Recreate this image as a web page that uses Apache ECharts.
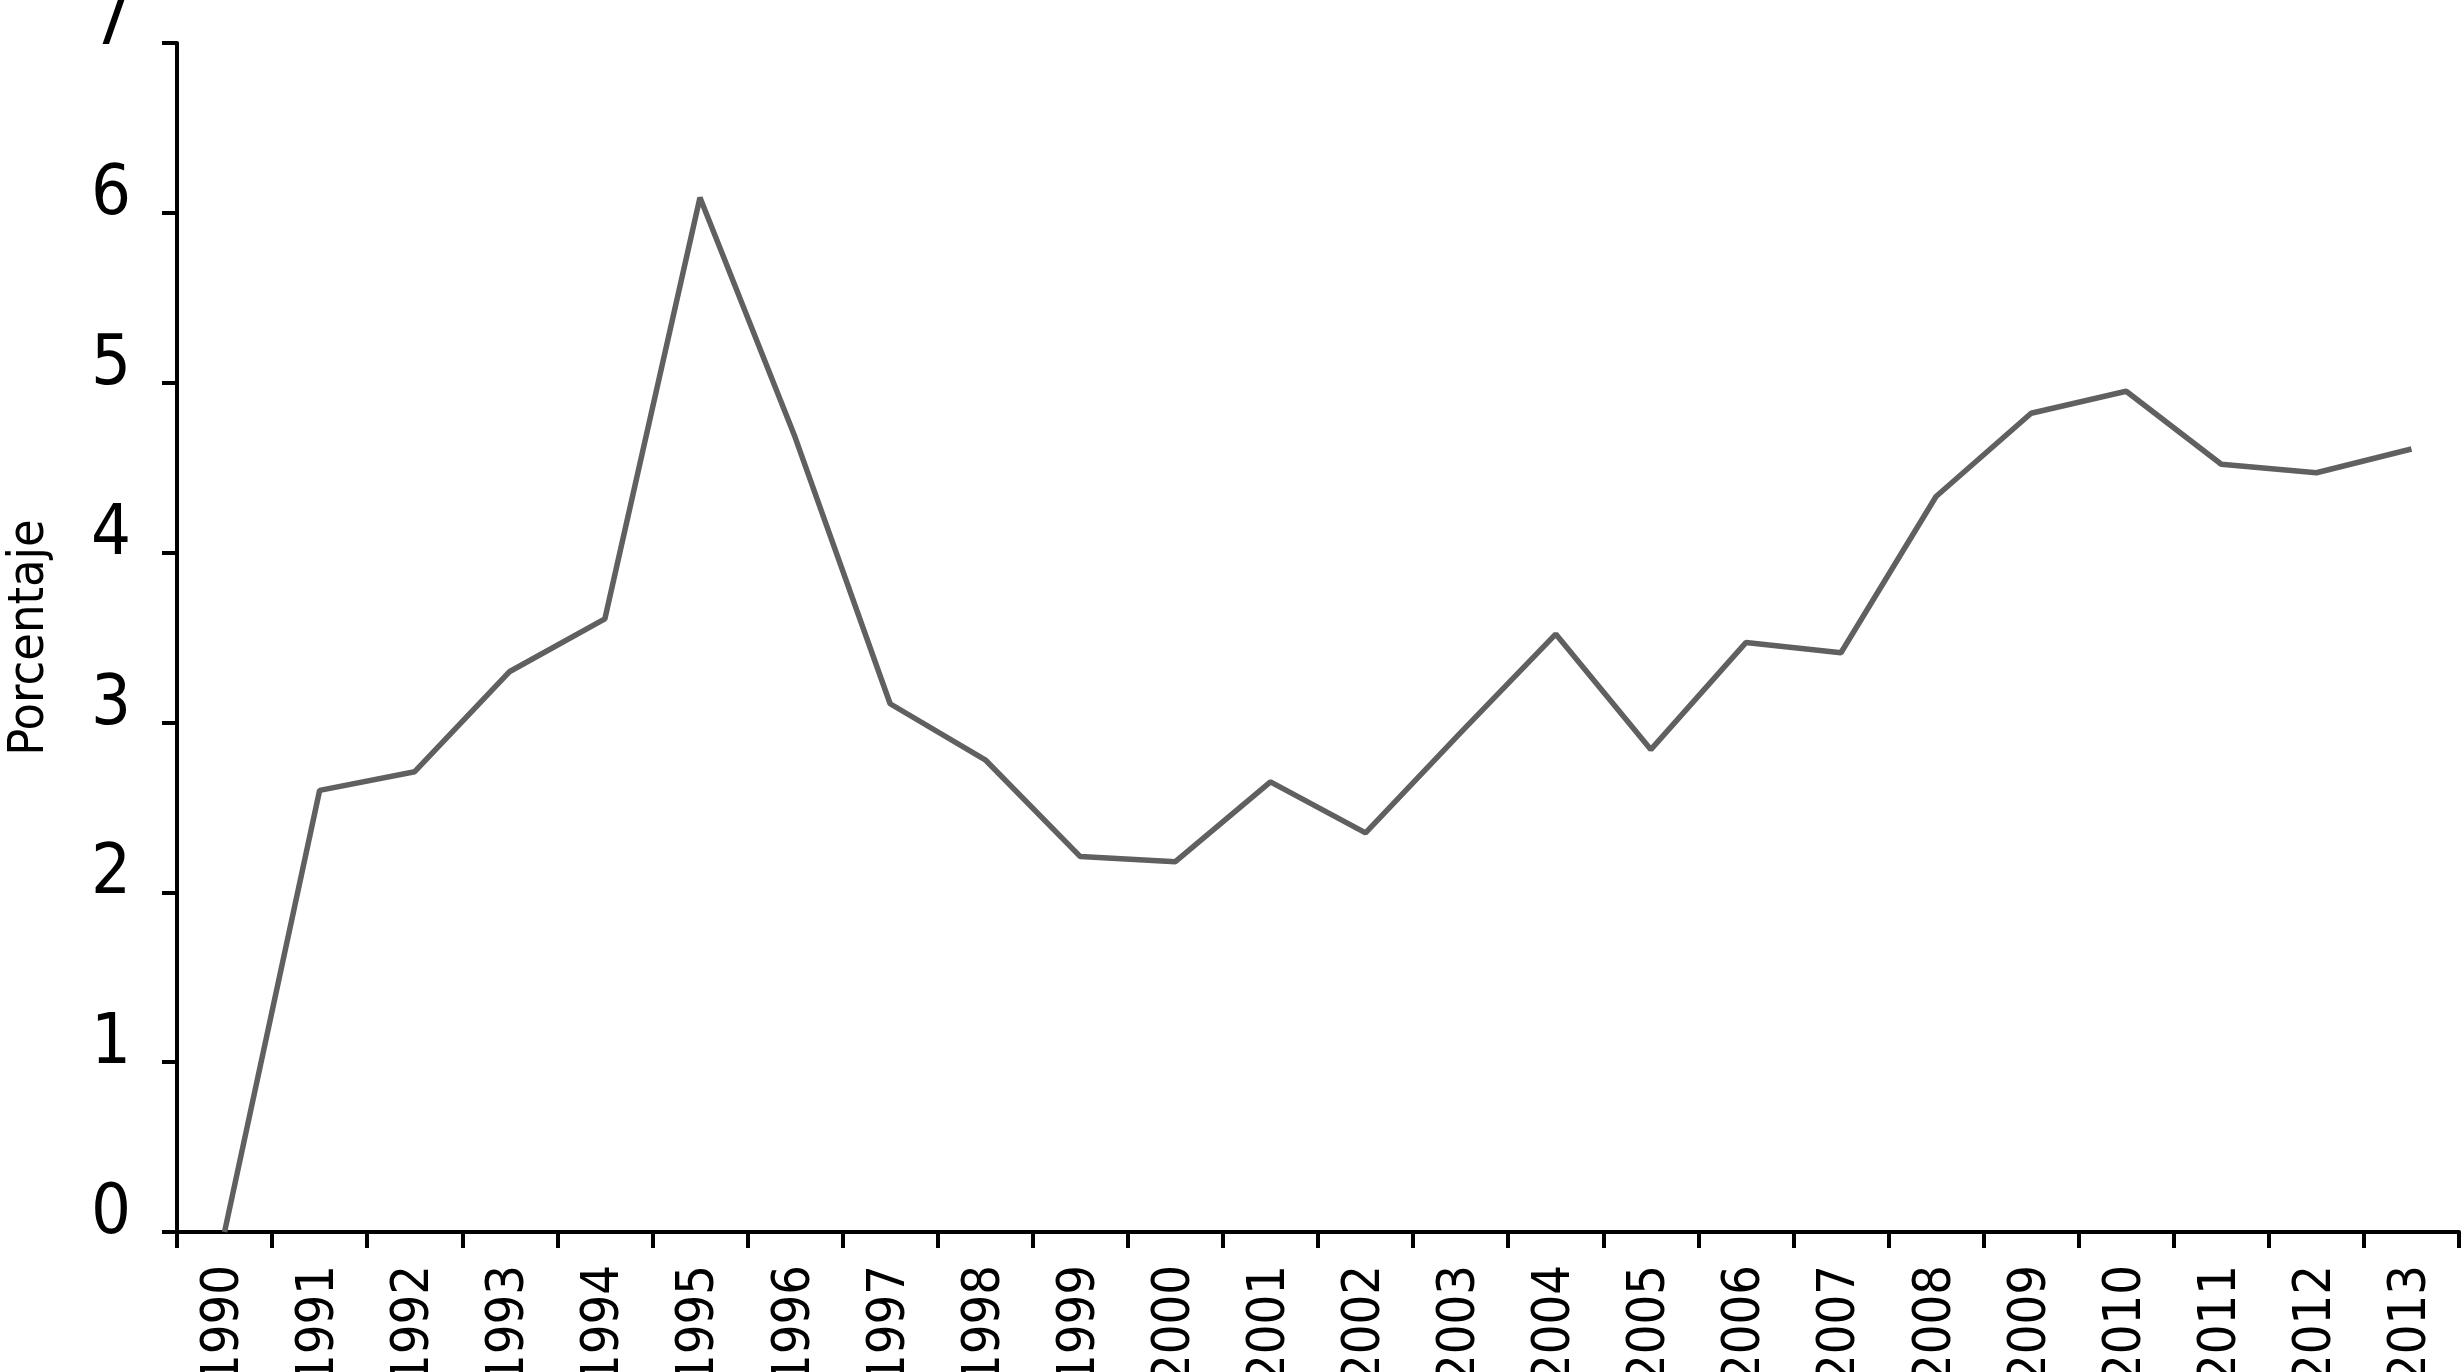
<!DOCTYPE html>
<html>
<head>
<meta charset="utf-8">
<script src="https://cdn.jsdelivr.net/npm/echarts@6/dist/echarts.min.js"></script>
<style>
html,body{margin:0;padding:0;background:#fff;}
#c{width:2462px;height:1372px;}
</style>
</head>
<body>
<div id="c"></div>
<script>
const years = ['1990','1991','1992','1993','1994','1995','1996','1997','1998','1999','2000','2001','2002','2003','2004','2005','2006','2007','2008','2009','2010','2011','2012','2013'];
const porcentaje = [0, 2.60, 2.71, 3.30, 3.61, 6.09, 4.68, 3.11, 2.78, 2.21, 2.18, 2.65, 2.35, 2.94, 3.52, 2.84, 3.47, 3.41, 4.33, 4.82, 4.95, 4.52, 4.47, 4.61];
const yAxisTitle = 'Porcentaje';

const FONT = '"Liberation Sans Narrow", "DejaVu Sans Condensed", "Liberation Sans", sans-serif';
const chart = echarts.init(document.getElementById('c'), null, {renderer: 'canvas'});
chart.setOption({
  animation: false,
  backgroundColor: '#ffffff',
  grid: {left: 177, right: 3, top: 43, bottom: 140, containLabel: false, outerBoundsMode: 'none'},
  xAxis: {
    type: 'category',
    data: years,
    boundaryGap: true,
    axisLine: {lineStyle: {color: '#000', width: 4}},
    axisTick: {show: true, length: 16, lineStyle: {color: '#000', width: 4}, alignWithLabel: false},
    axisLabel: {rotate: 90, margin: 33, color: '#000', fontSize: 52, fontFamily: FONT, interval: 0},
    splitLine: {show: false}
  },
  yAxis: {
    type: 'value',
    min: 0, max: 7, interval: 1,
    name: yAxisTitle,
    nameLocation: 'middle',
    nameGap: 122,
    nameTextStyle: {color: '#000', fontSize: 50, fontFamily: FONT},
    axisLine: {show: true, lineStyle: {color: '#000', width: 4}},
    axisTick: {show: true, length: 15, lineStyle: {color: '#000', width: 4}},
    axisLabel: {
      margin: 46, color: '#000', fontSize: 70, fontFamily: FONT, lineHeight: 34,
      formatter: function (v) { return v + '\n'; }
    },
    splitLine: {show: false}
  },
  series: [{
    type: 'line',
    data: porcentaje,
    showSymbol: false,
    symbol: 'none',
    lineStyle: {color: '#606060', width: 5.5},
    itemStyle: {color: '#606060'}
  }]
});
</script>
</body>
</html>
